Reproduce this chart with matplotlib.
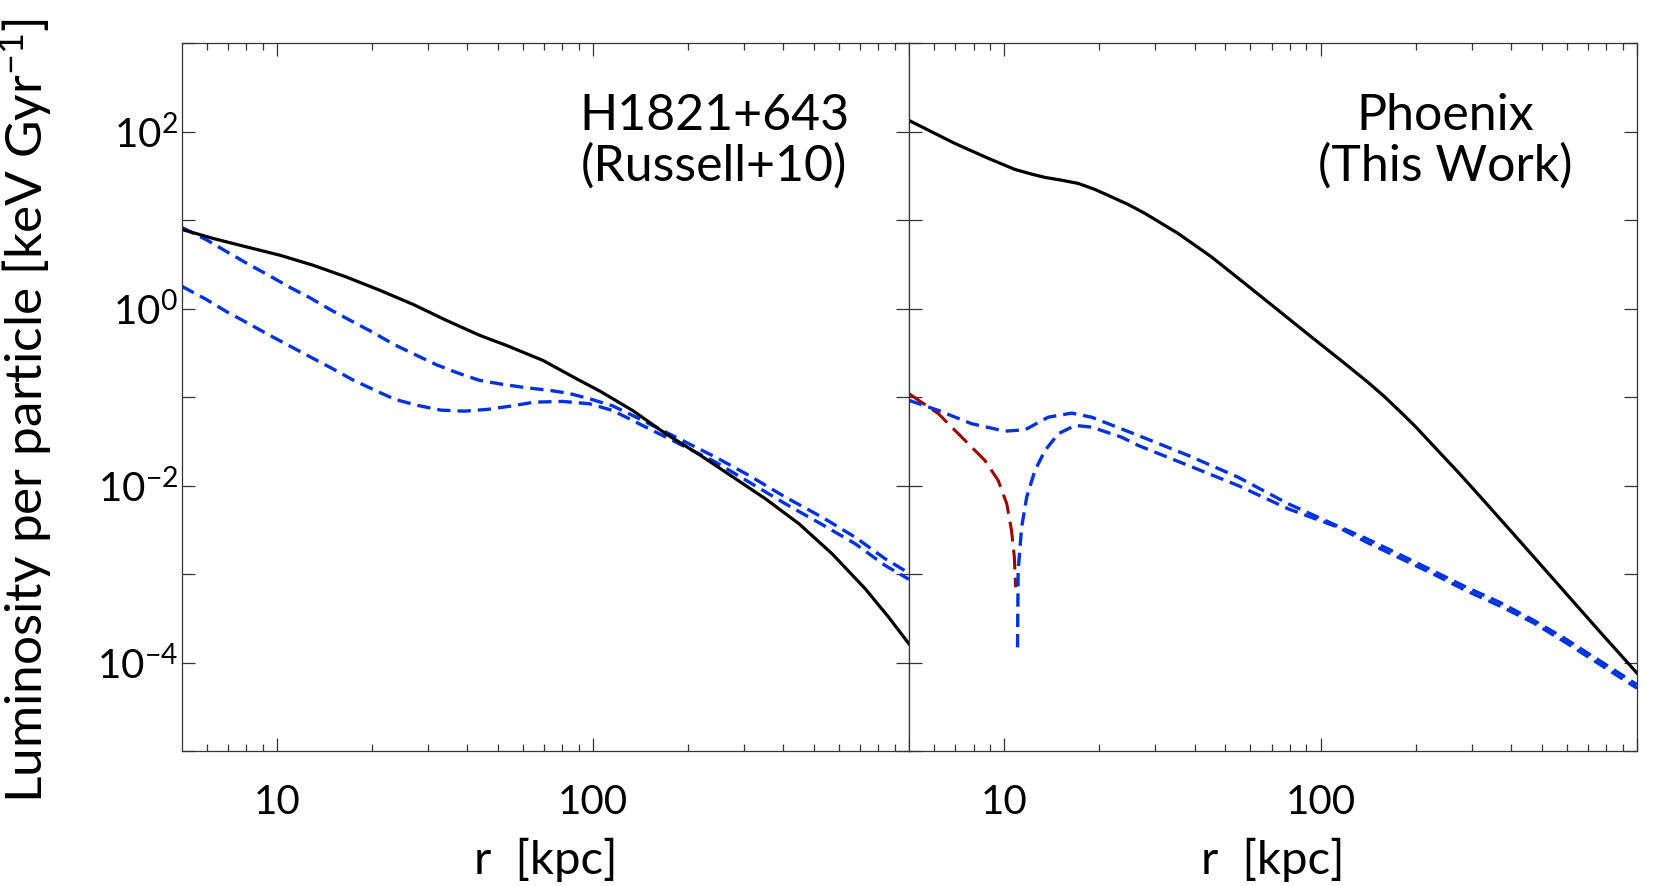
import matplotlib
matplotlib.use("Agg")
import numpy as np
import matplotlib.pyplot as plt
from matplotlib.ticker import FixedLocator, FuncFormatter, NullFormatter

plt.rcParams['font.family'] = ['Lato', 'DejaVu Sans']
plt.rcParams['mathtext.default'] = 'regular'

# Values, stored as log10(r / kpc) and log10(L)
# ---------------- H1821+643 (Russell+10) ----------------
h_logr_tot = [0.699, 0.798, 0.903, 1.009, 1.114, 1.219, 1.325, 1.430, 1.535, 1.641,
              1.725, 1.841, 1.957, 2.020, 2.125, 2.230, 2.336, 2.441, 2.546, 2.652,
              2.757, 2.862, 2.936, 3.000]
h_logL_tot = [0.893, 0.791, 0.696, 0.602, 0.489, 0.356, 0.206, 0.047, -0.133, -0.303,
              -0.416, -0.586, -0.812, -0.930, -1.152, -1.415, -1.650, -1.900, -2.151,
              -2.433, -2.773, -3.169, -3.490, -3.790]

h_logr_a = [0.699, 0.777, 0.842, 0.908, 0.975, 1.040, 1.103, 1.172, 1.235, 1.303,
            1.367, 1.435, 1.504, 1.572, 1.641, 1.714, 1.788, 1.862, 1.920, 1.988,
            2.062, 2.125, 2.262, 2.388, 2.494, 2.609, 2.725, 2.830, 2.925, 3.000]
h_logL_a = [0.915, 0.775, 0.639, 0.503, 0.372, 0.240, 0.123, -0.020, -0.141, -0.269,
            -0.401, -0.518, -0.635, -0.729, -0.812, -0.857, -0.895, -0.925, -0.956,
            -1.019, -1.100, -1.208, -1.454, -1.680, -1.887, -2.132, -2.358, -2.585,
            -2.829, -2.990]

h_logr_b = [0.699, 0.777, 0.842, 0.908, 0.975, 1.040, 1.106, 1.172, 1.238, 1.306,
            1.373, 1.445, 1.518, 1.592, 1.666, 1.739, 1.814, 1.904, 1.988, 2.062,
            2.125, 2.262, 2.388, 2.494, 2.609, 2.725, 2.830, 2.925, 3.000]
h_logL_b = [0.250, 0.100, -0.040, -0.167, -0.300, -0.424, -0.549, -0.673, -0.804,
            -0.918, -1.027, -1.095, -1.148, -1.160, -1.140, -1.103, -1.058, -1.050,
            -1.076, -1.152, -1.265, -1.510, -1.736, -1.962, -2.207, -2.441, -2.659,
            -2.905, -3.060]

# ---------------- Phoenix (This Work) ----------------
p_logr_tot = [0.699, 0.844, 0.950, 1.034, 1.087, 1.129, 1.181, 1.234, 1.287, 1.339,
              1.392, 1.445, 1.550, 1.655, 1.761, 1.866, 1.971, 2.077, 2.150, 2.200,
              2.250, 2.300, 2.377, 2.440, 2.503, 2.630, 2.756, 2.882, 3.000]
p_logL_tot = [2.125, 1.865, 1.696, 1.571, 1.518, 1.481, 1.450, 1.413, 1.345, 1.261,
              1.175, 1.074, 0.847, 0.583, 0.281, -0.020, -0.322, -0.623, -0.835,
              -0.990, -1.160, -1.335, -1.630, -1.870, -2.120, -2.630, -3.140, -3.650,
              -4.120]

p_logr_a = [0.699, 0.792, 0.897, 1.002, 1.066, 1.139, 1.213, 1.276, 1.424, 1.582,
            1.739, 1.898, 2.050, 2.145, 2.250, 2.356, 2.461, 2.566, 2.672, 2.777,
            2.882, 3.000]
p_logL_a = [-1.038, -1.152, -1.302, -1.386, -1.370, -1.228, -1.182, -1.228, -1.435,
            -1.661, -1.906, -2.207, -2.452, -2.600, -2.780, -2.965, -3.150, -3.320,
            -3.520, -3.740, -3.980, -4.250]

p_logr_b = [1.042, 1.044, 1.055, 1.071, 1.097, 1.129, 1.171, 1.224, 1.276, 1.371,
            1.424, 1.582, 1.739, 1.898, 2.055, 2.145, 2.250, 2.356, 2.461, 2.566,
            2.672, 2.777, 2.882, 3.000]
p_logL_b = [-3.829, -2.961, -2.471, -2.132, -1.830, -1.604, -1.415, -1.321, -1.340,
            -1.454, -1.548, -1.774, -2.000, -2.264, -2.471, -2.640, -2.820, -3.000,
            -3.190, -3.360, -3.550, -3.780, -4.020, -4.290]

# |negative| branch (dark red, long dashes)
p_logr_neg = [0.699, 0.792, 0.876, 0.939, 0.981, 1.008, 1.023, 1.032, 1.036]
p_logL_neg = [-0.963, -1.189, -1.491, -1.717, -1.944, -2.207, -2.509, -2.811, -3.150]

x_major = [10, 100, 1000]
x_minor = [6, 7, 8, 9, 20, 30, 40, 50, 60, 70, 80, 90, 200, 300, 400, 500, 600, 700, 800, 900]
x_labeled = [10, 100]
y_major = [1e-5, 1e-4, 1e-3, 1e-2, 1e-1, 1e0, 1e1, 1e2, 1e3]
y_labeled = [-4, -2, 0, 2]

titles = [("H1821+643", "(Russell+10)"), ("Phoenix", "(This Work)")]


def lin(v):
    return np.power(10.0, np.asarray(v))


# ---------------- figure ----------------
W, H = 1653, 886
fig = plt.figure(figsize=(W / 100, H / 100), dpi=100)
ax1 = fig.add_axes([182 / W, 1 - 751 / H, (909 - 182) / W, (751 - 43) / H])
ax2 = fig.add_axes([909 / W, 1 - 751 / H, (1637 - 909) / W, (751 - 43) / H])

BLUE = '#0033dd'
RED = '#a00000'
blue_kw = dict(color=BLUE, lw=2.4, dashes=(4.0, 2.1))

ax1.plot(lin(h_logr_a), lin(h_logL_a), **blue_kw)
ax1.plot(lin(h_logr_b), lin(h_logL_b), **blue_kw)
ax1.plot(lin(h_logr_tot), lin(h_logL_tot), color='black', lw=2.3)

ax2.plot(lin(p_logr_neg), lin(p_logL_neg), color=RED, lw=2.2, dashes=(6.5, 2.7))
ax2.plot(lin(p_logr_a), lin(p_logL_a), **blue_kw)
ax2.plot(lin(p_logr_b), lin(p_logL_b), **blue_kw)
ax2.plot(lin(p_logr_tot), lin(p_logL_tot), color='black', lw=2.3)


def xfmt(v, pos):
    return f"{int(round(v))}" if int(round(v)) in x_labeled else ""


def yfmt(v, pos):
    e = int(round(np.log10(v)))
    if e in y_labeled:
        return r"$\mathregular{10^{%d}}$" % e
    return ""


for i, ax in enumerate((ax1, ax2)):
    ax.set_xscale('log')
    ax.set_yscale('log')
    ax.set_xlim(5, 1000)
    ax.set_ylim(1e-5, 1e3)
    ax.xaxis.set_major_locator(FixedLocator(x_major))
    ax.xaxis.set_minor_locator(FixedLocator(x_minor))
    ax.xaxis.set_major_formatter(FuncFormatter(xfmt))
    ax.xaxis.set_minor_formatter(NullFormatter())
    ax.yaxis.set_major_locator(FixedLocator(y_major))
    ax.yaxis.set_minor_locator(FixedLocator([]))
    if i == 0:
        ax.yaxis.set_major_formatter(FuncFormatter(yfmt))
    else:
        ax.yaxis.set_major_formatter(NullFormatter())
    ax.tick_params(which='both', direction='in', top=True, right=True,
                   width=0.9, color='#333333')
    ax.tick_params(which='major', length=9.5)
    ax.tick_params(which='minor', length=5)
    ax.tick_params(axis='x', which='major', pad=24, labelsize=29)
    ax.tick_params(axis='y', which='major', pad=3, labelsize=29)
    for s in ax.spines.values():
        s.set_linewidth(0.9)
        s.set_color('#333333')
    ax.set_xlabel("r  [kpc]", fontsize=34, labelpad=12)

fig.text(26 / W, 1 - 411 / H, r"Luminosity per particle [keV Gyr$\mathregular{^{-1}}$]",
         rotation=90, ha='center', va='center', fontsize=37)

for (l1, l2), cx in zip(titles, (714, 1445)):
    fig.text(cx / W, 1 - 116 / H, l1, ha='center', va='center', fontsize=36)
    fig.text(cx / W, 1 - 166 / H, l2, ha='center', va='center', fontsize=36)

fig.savefig("out.png", dpi=100)
